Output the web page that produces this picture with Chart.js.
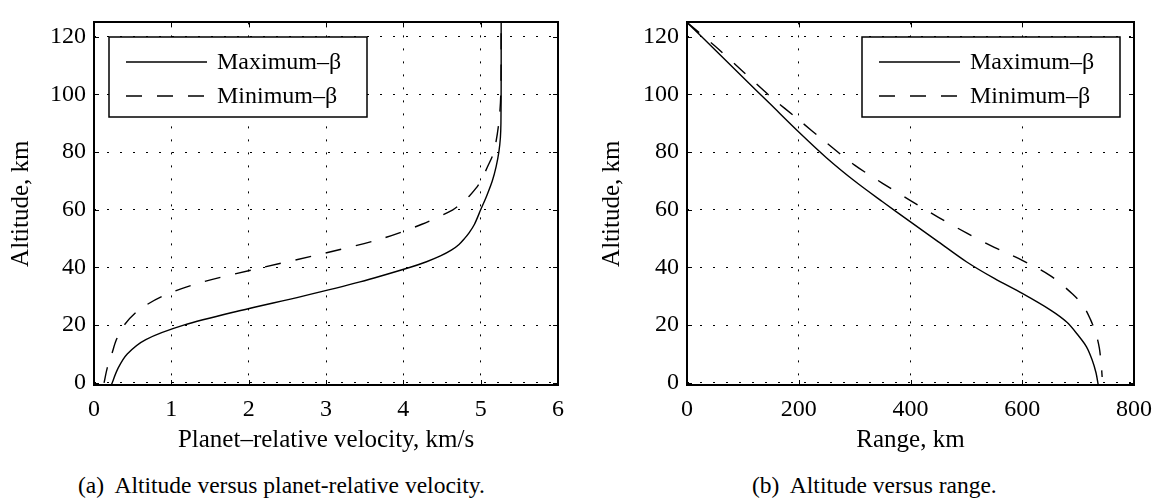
<!DOCTYPE html>
<html>
<head>
<meta charset="utf-8">
<script src="https://cdn.jsdelivr.net/npm/chart.js@4.4.1/dist/chart.umd.min.js"></script>
<style>
  html, body { margin: 0; padding: 0; background: #fff; }
  body { width: 1162px; height: 501px; position: relative; overflow: hidden; font-family: 'Liberation Serif', 'Times New Roman', serif; }
  .box { position: absolute; top: 0; height: 460px; }
  #boxA { left: 0; width: 580px; }
  #boxB { left: 580px; width: 582px; }
  .caption { position: absolute; top: 470px; font-size: 23.5px; line-height: 30px; color: #000; white-space: pre; }
</style>
</head>
<body>
<div class="box" id="boxA"><canvas id="velChart"></canvas></div>
<div class="box" id="boxB"><canvas id="rangeChart"></canvas></div>
<div class="caption" style="left:78px">(a)  Altitude versus planet-relative velocity.</div>
<div class="caption" style="left:752px">(b)  Altitude versus range.</div>
<script>
// --- data ---
const seriesNames = ['Maximum\u2013\u03b2', 'Minimum\u2013\u03b2'];

// (a) altitude vs planet-relative velocity
const altVelMax = [-0.7, 5, 10, 15, 20, 25, 30, 35, 40, 42, 44, 46, 48, 50, 52, 55, 60, 65, 70, 75, 80, 85, 90, 105, 125];
const velMax = [0.225, 0.31, 0.43, 0.67, 1.16, 1.88, 2.69, 3.44, 4.08, 4.30, 4.48, 4.62, 4.72, 4.79, 4.85, 4.92, 5.0, 5.08, 5.15, 5.20, 5.235, 5.255, 5.262, 5.265, 5.265];
const altVelMin = [0, 5, 10, 15, 20, 25, 30, 35, 40, 45, 50, 55, 60, 62.5, 65, 67.5, 70, 75, 80, 90, 100, 125];
const velMin = [0.13, 0.17, 0.23, 0.29, 0.39, 0.57, 0.88, 1.41, 2.18, 2.99, 3.72, 4.24, 4.64, 4.76, 4.86, 4.94, 5.0, 5.09, 5.17, 5.234, 5.26, 5.265];

// (b) altitude vs range
const rangeMax = [0, 50, 100, 150, 200, 250, 300, 350, 400, 450, 500, 550, 600, 650, 680, 700, 715, 725, 732, 736];
const altRangeMax = [125, 115.5, 106, 96.5, 87, 78.0, 70.0, 62.8, 55.8, 48.9, 42.0, 36.2, 31.0, 25.3, 21, 16.5, 12.5, 8, 3.5, -0.7];
const rangeMin = [0, 50, 100, 150, 200, 250, 300, 350, 400, 450, 500, 550, 600, 650, 690, 710, 722, 732, 738, 741.5, 743];
const altRangeMin = [125, 116.8, 108, 99.2, 91.2, 83.2, 75.5, 69.2, 63.2, 57.4, 52.0, 47.0, 42.5, 37.2, 30.8, 26.5, 22, 17, 12, 6, 2];

const altTicks = [0, 20, 40, 60, 80, 100, 120];
const velTicks = [0, 1, 2, 3, 4, 5, 6];
const rangeTicks = [0, 200, 400, 600, 800];

// --- styling helpers ---
const FONT = "'Liberation Serif', 'Times New Roman', serif";
Chart.defaults.font.family = FONT;
Chart.defaults.color = '#000';

function pts(xs, ys) { return xs.map((x, i) => ({ x: x, y: ys[i] })); }

function lineSet(label, data, dashed) {
    return {
        label: label, data: data, showLine: true,
        borderColor: '#000', borderWidth: 1.4, pointRadius: 0,
        borderDash: dashed ? [16, 15] : [], tension: 0.3, fill: false
    };
}

// MATLAB-like frame, inward ticks and legend box
const framePlugin = {
    id: 'frame',
    afterDraw(chart, args, opts) {
        const { ctx, chartArea: a } = chart;
        const xs = chart.scales.x, ys = chart.scales.y;
        ctx.save();
        ctx.strokeStyle = '#000';
        ctx.lineWidth = 1;
        ctx.beginPath();
        xs.ticks.forEach(t => {
            const px = Math.round(xs.getPixelForValue(t.value)) + 0.5;
            ctx.moveTo(px, a.bottom); ctx.lineTo(px, a.bottom - 5);
            ctx.moveTo(px, a.top); ctx.lineTo(px, a.top + 5);
        });
        ys.ticks.forEach(t => {
            const py = Math.round(ys.getPixelForValue(t.value)) + 0.5;
            ctx.moveTo(a.left, py); ctx.lineTo(a.left + 5, py);
            ctx.moveTo(a.right, py); ctx.lineTo(a.right - 5, py);
        });
        ctx.stroke();
        ctx.lineWidth = 2;
        ctx.strokeRect(Math.round(a.left), Math.round(a.top), Math.round(a.right - a.left), Math.round(a.bottom - a.top));

        // legend
        const w = 258, h = 80;
        const bx = opts.side === 'right' ? Math.round(a.right - 14 - w) : Math.round(a.left + 15);
        const by = Math.round(a.top + 15);
        ctx.fillStyle = '#fff';
        ctx.fillRect(bx, by, w, h);
        ctx.lineWidth = 1.5;
        ctx.strokeRect(bx, by, w, h);
        ctx.font = '24px ' + FONT;
        ctx.textBaseline = 'middle';
        ctx.fillStyle = '#000';
        chart.data.datasets.forEach((ds, i) => {
            const ry = by + 25 + i * 34;
            ctx.beginPath();
            ctx.setLineDash(ds.borderDash);
            ctx.lineWidth = 1.4;
            ctx.moveTo(bx + 17, ry); ctx.lineTo(bx + 98, ry);
            ctx.stroke();
            ctx.setLineDash([]);
            ctx.fillText(ds.label, bx + 108, ry + 1);
        });
        ctx.restore();
    }
};

function axisCfg(min, max, ticks, title, fitSize, horizontal, titlePad) {
    const cfg = {
        type: 'linear', min: min, max: max,
        afterBuildTicks: s => { s.ticks = ticks.map(v => ({ value: v })); },
        ticks: { font: { size: 24 }, color: '#000', padding: horizontal ? 10 : 8 },
        grid: { color: '#000', lineWidth: 1, drawTicks: false },
        border: { display: false, dash: [2, 11] },
        title: { display: true, text: title, font: { size: 25 }, color: '#000', padding: titlePad }
    };
    cfg.afterFit = horizontal ? (s => { s.height = fitSize; }) : (s => { s.width = fitSize; });
    return cfg;
}

function makeChart(id, datasets, xAxis, yAxis, side, padRight) {
    return new Chart(document.getElementById(id), {
        type: 'scatter',
        data: { datasets: datasets },
        options: {
            responsive: true, maintainAspectRatio: false, animation: false,
            layout: { padding: { top: 7, right: padRight, left: 0, bottom: 0 } },
            scales: { x: xAxis, y: yAxis },
            plugins: { legend: { display: false }, tooltip: { enabled: false }, frame: { side: side } }
        },
        plugins: [framePlugin]
    });
}

makeChart('velChart',
    [lineSet(seriesNames[0], pts(velMax, altVelMax), false), lineSet(seriesNames[1], pts(velMin, altVelMin), true)],
    axisCfg(0, 6, velTicks, 'Planet\u2013relative velocity, km/s', 75, true, { top: 0, bottom: 5 }),
    axisCfg(-0.75, 125, altTicks, 'Altitude, km', 94, false, { top: 6, bottom: 0 }),
    'left', 22);

makeChart('rangeChart',
    [lineSet(seriesNames[0], pts(rangeMax, altRangeMax), false), lineSet(seriesNames[1], pts(rangeMin, altRangeMin), true)],
    axisCfg(0, 800, rangeTicks, 'Range, km', 75, true, { top: 0, bottom: 5 }),
    axisCfg(-0.75, 125, altTicks, 'Altitude, km', 107, false, { top: 17, bottom: 0 }),
    'right', 26);
</script>
</body>
</html>
